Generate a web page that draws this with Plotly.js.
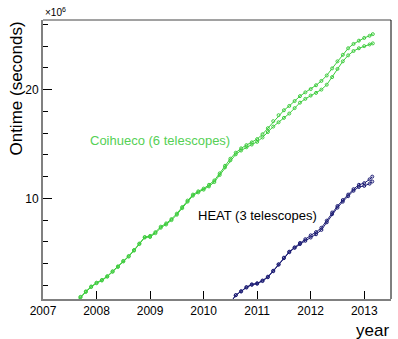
<!DOCTYPE html>
<html>
<head>
<meta charset="utf-8">
<script src="https://cdn.plot.ly/plotly-3.0.1.min.js"></script>
<style>
  html, body { margin: 0; padding: 0; background: #fff; }
  #chart { width: 398px; height: 339px; }
</style>
</head>
<body>
<div id="chart"></div>
<script>
// Coihueco (6 telescopes): two ontime curves, x10^6 s
const coiYears = [2007.6, 2007.7, 2007.8, 2007.9, 2008.0, 2008.1, 2008.2, 2008.3, 2008.4, 2008.5,
  2008.6, 2008.7, 2008.8, 2008.9, 2009.0, 2009.1, 2009.2, 2009.3, 2009.4, 2009.5,
  2009.6, 2009.7, 2009.8, 2009.9, 2010.0, 2010.1, 2010.2, 2010.3, 2010.4, 2010.5,
  2010.6, 2010.7, 2010.8, 2010.9, 2011.0, 2011.1, 2011.2, 2011.3, 2011.4, 2011.5,
  2011.6, 2011.7, 2011.8, 2011.9, 2012.0, 2012.1, 2012.2, 2012.3, 2012.4, 2012.5,
  2012.6, 2012.7, 2012.8, 2012.9, 2013.0, 2013.1, 2013.16];
const coiUpper = [0.4, 0.95, 1.45, 1.9, 2.25, 2.5, 2.85, 3.3, 3.75, 4.25,
  4.7, 5.25, 5.85, 6.45, 6.55, 6.9, 7.4, 7.7, 8.1, 8.6,
  9.2, 9.8, 10.35, 10.65, 10.9, 11.25, 11.65, 12.3, 13.0, 13.65,
  14.2, 14.6, 14.9, 15.15, 15.45, 15.9, 16.45, 17.1, 17.65, 18.1,
  18.5, 18.95, 19.4, 19.75, 20.05, 20.4, 20.8, 21.3, 21.95, 22.6,
  23.2, 23.8, 24.2, 24.5, 24.75, 24.95, 25.1];
const coiLower = [0.3, 0.9, 1.4, 1.85, 2.2, 2.45, 2.8, 3.25, 3.7, 4.2,
  4.65, 5.2, 5.8, 6.4, 6.45, 6.8, 7.3, 7.6, 8.0, 8.5,
  9.1, 9.7, 10.25, 10.55, 10.8, 11.1, 11.5, 12.15, 12.85, 13.5,
  14.05, 14.4, 14.7, 14.95, 15.2, 15.6, 16.1, 16.6, 17.0, 17.4,
  17.8, 18.3, 18.8, 19.15, 19.45, 19.7, 20.0, 20.45, 21.15, 21.9,
  22.6, 23.15, 23.55, 23.8, 24.0, 24.15, 24.25];

// HEAT (3 telescopes)
const heatYears = [2010.5, 2010.6, 2010.7, 2010.8, 2010.9, 2011.0, 2011.1, 2011.2, 2011.3, 2011.4,
  2011.5, 2011.6, 2011.7, 2011.8, 2011.9, 2012.0, 2012.1, 2012.2, 2012.3, 2012.4,
  2012.5, 2012.6, 2012.7, 2012.8, 2012.9, 2013.0, 2013.1, 2013.15];
const heatUpper = [0.4, 1.1, 1.45, 1.85, 2.1, 2.2, 2.45, 2.8, 3.35, 3.95,
  4.55, 5.1, 5.5, 5.9, 6.25, 6.6, 6.9, 7.3, 7.95, 8.7,
  9.3, 9.85, 10.35, 10.85, 11.25, 11.4, 11.75, 12.0];
const heatLower = [0.4, 1.1, 1.45, 1.8, 2.05, 2.15, 2.4, 2.75, 3.3, 3.9,
  4.5, 5.05, 5.45, 5.8, 6.1, 6.4, 6.7, 7.1, 7.8, 8.55,
  9.15, 9.7, 10.2, 10.7, 11.05, 11.15, 11.35, 11.55];

const green = '#3ccc3c';
const navy = '#1c1c74';
const font = 'Liberation Sans, Arial, sans-serif';

function curve(x, y, color) {
    return {
        x: x, y: y, type: 'scatter', mode: 'lines+markers',
        line: { color: color, width: 1 },
        marker: { symbol: 'circle-open', size: 3, color: color, line: { width: 1, color: color } },
        cliponaxis: true, showlegend: false, hoverinfo: 'skip'
    };
}

const traces = [
    curve(coiYears, coiUpper, green),
    curve(coiYears, coiLower, green),
    curve(heatYears, heatUpper, navy),
    curve(heatYears, heatLower, navy)
];

const layout = {
    width: 398, height: 339,
    margin: { l: 43, r: 7, t: 20, b: 40 },
    paper_bgcolor: '#fff', plot_bgcolor: '#fff',
    font: { family: font, color: '#000', size: 12 },
    xaxis: {
        range: [2007, 2013.5], dtick: 1, tick0: 2007,
        showgrid: false, zeroline: false,
        showline: true, linecolor: '#808080', linewidth: 2,
        ticks: 'inside', ticklen: 8, tickcolor: '#000', tickwidth: 1,
        tickfont: { size: 12 }
    },
    yaxis: {
        range: [0.75, 26.4], dtick: 10, tick0: 0,
        showgrid: false, zeroline: false,
        showline: true, linecolor: '#808080', linewidth: 2,
        ticks: 'inside', ticklen: 9, tickcolor: '#000', tickwidth: 1,
        tickfont: { size: 12 },
        minor: { dtick: 2, ticks: 'inside', ticklen: 5, tickcolor: '#000', showgrid: false }
    },
    shapes: [
        { type: 'line', xref: 'paper', yref: 'paper', x0: 0, x1: 1, y0: 1, y1: 1, line: { color: '#444', width: 1 } },
        { type: 'line', xref: 'paper', yref: 'paper', x0: 1, x1: 1, y0: 0, y1: 1, line: { color: '#000', width: 1 } }
    ],
    annotations: [
        { text: 'Coihueco (6 telescopes)', x: 2009.18, y: 15.3, xref: 'x', yref: 'y',
          xanchor: 'center', yanchor: 'middle',
          showarrow: false, font: { size: 13, color: '#55d055' } },
        { text: 'HEAT (3 telescopes)', x: 2011.0, y: 8.47, xref: 'x', yref: 'y',
          xanchor: 'center', yanchor: 'middle',
          showarrow: false, font: { size: 13, color: '#000' } },
        { text: '×10<sup>6</sup>', x: 0, y: 1, xref: 'paper', yref: 'paper',
          xanchor: 'left', yanchor: 'bottom', showarrow: false, font: { size: 10 } },
        { text: 'Ontime (seconds)', x: -0.075, y: 0.754, xref: 'paper', yref: 'paper',
          xanchor: 'center', yanchor: 'middle',
          textangle: -90, showarrow: false, font: { size: 17 } },
        { text: 'year', x: 1, y: -0.1125, xref: 'paper', yref: 'paper',
          xanchor: 'right', yanchor: 'middle', showarrow: false, font: { size: 17 } }
    ]
};

Plotly.newPlot('chart', traces, layout, { staticPlot: true, displayModeBar: false });
</script>
</body>
</html>
